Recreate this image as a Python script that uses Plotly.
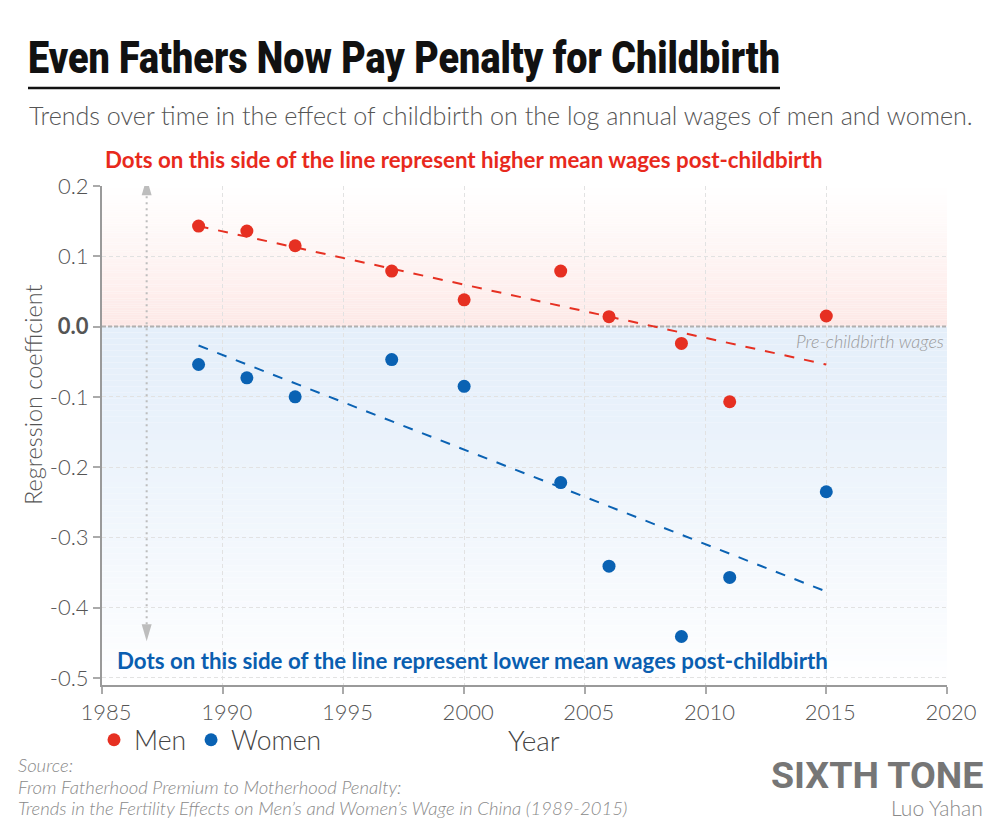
import plotly.graph_objects as go

# ---------------- data ----------------
years = [1989, 1991, 1993, 1997, 2000, 2004, 2006, 2009, 2011, 2015]
men = [0.143, 0.136, 0.115, 0.079, 0.038, 0.079, 0.014, -0.024, -0.107, 0.015]
women = [-0.054, -0.073, -0.100, -0.047, -0.085, -0.222, -0.341, -0.441, -0.357, -0.235]
trend_years = [1989, 2015]
men_trend = [0.143, -0.054]
women_trend = [-0.027, -0.377]
x_ticks = [1985, 1990, 1995, 2000, 2005, 2010, 2015, 2020]
y_ticks = [0.2, 0.1, 0.0, -0.1, -0.2, -0.3, -0.4, -0.5]
y_tick_text = ["0.2", "0.1", "<b>0.0</b>", "-0.1", "-0.2", "-0.3", "-0.4", "-0.5"]

RED = "#e63022"
BLUE = "#0a62b3"
FONT = "Lato"

# plot area in pixels
L, R, T, B = 102, 947, 186, 685
W, H = R - L, B - T


def px(x):
    return (x - L) / W


def py(y):
    return (B - y) / H


fig = go.Figure()

fig.add_trace(go.Scatter(x=trend_years, y=men_trend, mode="lines",
                         line=dict(color=RED, width=2, dash="10px,10px"),
                         showlegend=False, hoverinfo="skip"))
fig.add_trace(go.Scatter(x=trend_years, y=women_trend, mode="lines",
                         line=dict(color=BLUE, width=2, dash="10px,10px"),
                         showlegend=False, hoverinfo="skip"))
fig.add_trace(go.Scatter(x=years, y=men, mode="markers", name="Men",
                         marker=dict(color=RED, size=13)))
fig.add_trace(go.Scatter(x=years, y=women, mode="markers", name="Women",
                         marker=dict(color=BLUE, size=13)))

shapes = []


def mix(c1, c2, t):
    return "rgb(%d,%d,%d)" % tuple(round(a + (b - a) * t) for a, b in zip(c1, c2))


white = (255, 255, 255)
pink = (253, 231, 229)
lblue = (229, 239, 250)
N = 60
ymin, ymax = -0.51, 0.2
for i in range(N):
    y0 = ymax * i / N
    y1 = ymax * (i + 1) / N
    shapes.append(dict(type="rect", xref="x", yref="y", x0=1985, x1=2020, y0=y0, y1=y1,
                       fillcolor=mix(pink, white, ((i + 0.5) / N) ** 0.85), line=dict(width=0),
                       layer="below"))
for i in range(N):
    y0 = ymin * i / N
    y1 = ymin * (i + 1) / N
    shapes.append(dict(type="rect", xref="x", yref="y", x0=1985, x1=2020, y0=y1, y1=y0,
                       fillcolor=mix(lblue, white, ((i + 0.5) / N) ** 1.3), line=dict(width=0),
                       layer="below"))

# zero line
shapes.append(dict(type="line", xref="x", yref="y", x0=1985, x1=2020, y0=0, y1=0,
                   line=dict(color="#b0b0b0", width=2, dash="4px,2px"), layer="between"))
# vertical dotted arrow
ax_x = 1986.85
shapes.append(dict(type="line", xref="x", yref="y", x0=ax_x, x1=ax_x, y0=-0.4235, y1=0.1868,
                   line=dict(color="#bdbdbd", width=2, dash="2px,4px"), layer="between"))
shapes.append(dict(type="path", xref="x", yref="y", xsizemode="pixel", ysizemode="pixel",
                   xanchor=ax_x, yanchor=0.1868, path="M -5,0 L 5,0 L 0,17 Z",
                   fillcolor="#bdbdbd", line=dict(width=0), layer="between"))
shapes.append(dict(type="path", xref="x", yref="y", xsizemode="pixel", ysizemode="pixel",
                   xanchor=ax_x, yanchor=-0.4235, path="M -5,0 L 5,0 L 0,-17 Z",
                   fillcolor="#bdbdbd", line=dict(width=0), layer="between"))
# title underline
shapes.append(dict(type="line", xref="paper", yref="paper", x0=px(28), x1=px(780),
                   y0=py(88), y1=py(88), line=dict(color="#111", width=2.5)))

annotations = [
    dict(text="Even Fathers Now Pay Penalty for Childbirth", x=px(26), y=py(57),
         xanchor="left", yanchor="middle",
         font=dict(family="Roboto", size=45, color="#111", weight=900)),
    dict(text="Trends over time in the effect of childbirth on the log annual wages of men and women.",
         x=px(27), y=py(115), xanchor="left", yanchor="middle",
         font=dict(family=FONT, size=25.1, color="#555", weight=300)),
    dict(text="<b>Dots on this side of the line represent higher mean wages post-childbirth</b>",
         x=px(103), y=py(160), xanchor="left", yanchor="middle",
         font=dict(family=FONT, size=22.3, color="#e8291c")),
    dict(text="<b>Dots on this side of the line represent lower mean wages post-childbirth</b>",
         x=px(115), y=py(660), xanchor="left", yanchor="middle",
         font=dict(family=FONT, size=22.3, color="#0a5eb0")),
    dict(text="<i>Pre-childbirth wages</i>", x=px(946), y=py(341), xanchor="right", yanchor="middle",
         font=dict(family=FONT, size=18, color="#9a9a9a", weight=300)),
    dict(text="Regression coefficient", x=px(33), y=py(395), textangle=-90,
         xanchor="center", yanchor="middle",
         font=dict(family=FONT, size=23.5, color="#555", weight=300)),
    dict(text="Year", x=px(534), y=py(740), xanchor="center", yanchor="middle",
         font=dict(family=FONT, size=28, color="#444", weight=300)),
    dict(text="<i>Source:</i>", x=px(16), y=py(765), xanchor="left", yanchor="middle",
         font=dict(family=FONT, size=18.5, color="#8a8a8a", weight=300)),
    dict(text="<i>From Fatherhood Premium to Motherhood Penalty:</i>", x=px(16), y=py(787),
         xanchor="left", yanchor="middle",
         font=dict(family=FONT, size=18.5, color="#8a8a8a", weight=300)),
    dict(text="<i>Trends in the Fertility Effects on Men’s and Women’s Wage in China (1989-2015)</i>",
         x=px(16), y=py(808), xanchor="left", yanchor="middle",
         font=dict(family=FONT, size=18.5, color="#8a8a8a", weight=300)),
    dict(text="<b>SIXTH TONE</b>", x=px(985), y=py(775), xanchor="right", yanchor="middle",
         font=dict(family="Roboto", size=37.5, color="#767676")),
    dict(text="Luo Yahan", x=px(985), y=py(807), xanchor="right", yanchor="middle",
         font=dict(family=FONT, size=21, color="#8a8a8a", weight=300)),
]
for a in annotations:
    a.setdefault("xref", "paper")
    a.setdefault("yref", "paper")
    a.setdefault("showarrow", False)

fig.update_layout(
    width=1000, height=835,
    margin=dict(l=L, r=1000 - R, t=T, b=835 - B, pad=0, autoexpand=False),
    paper_bgcolor="white", plot_bgcolor="white",
    font=dict(family=FONT, color="#555"),
    shapes=shapes, annotations=annotations,
    showlegend=True,
    legend=dict(orientation="h", x=px(94), y=py(740), xanchor="left", yanchor="middle",
                font=dict(family=FONT, size=26.5, color="#444", weight=300),
                bgcolor="rgba(0,0,0,0)", itemclick=False),
    xaxis=dict(range=[1985, 2020], tickvals=x_ticks, ticktext=[str(v) for v in x_ticks],
               showgrid=True, gridcolor="#e2e2e2", griddash="4px,3px", gridwidth=1,
               zeroline=False, showline=True, linecolor="#9a9a9a", linewidth=2,
               ticks="outside", ticklen=7, tickcolor="#aaa", tickwidth=1.5, automargin=False,
               ticklabelshift=4,
               tickfont=dict(family=FONT, size=22, color="#555", weight=300)),
    yaxis=dict(range=[-0.51, 0.2], tickvals=y_ticks, ticktext=y_tick_text,
               showgrid=True, gridcolor="#e2e2e2", griddash="4px,3px", gridwidth=1,
               zeroline=False, showline=True, linecolor="#9a9a9a", linewidth=2,
               ticks="outside", ticklen=7, tickcolor="#aaa", tickwidth=1.5, automargin=False,
               tickfont=dict(family=FONT, size=22, color="#555", weight=300)),
)

# Remove the page margin and condense the headline horizontally to the original width
post = """
(function(){
  document.body.style.margin = '0';
  document.body.style.padding = '0';
  var gd = document.getElementById('{plot_id}');
  function fix(){
    var els = gd.querySelectorAll('.annotation-text');
    els.forEach(function(t){
      if (t.textContent.indexOf('Even Fathers') === 0){
        var bb = t.getBBox();
        if (!bb.width) return;
        var s = 752 / bb.width;
        t.setAttribute('transform', 'translate(' + bb.x + ',0) scale(' + s + ',1) translate(' + (-bb.x) + ',0)');
      }
    });
  }
  fix();
  if (document.fonts && document.fonts.ready) document.fonts.ready.then(fix);
  setTimeout(fix, 100);
  setTimeout(fix, 500);
  if (gd.on) gd.on('plotly_afterplot', fix);
})();
"""

fig.write_html("out.html", post_script=post, config={"displayModeBar": False})
